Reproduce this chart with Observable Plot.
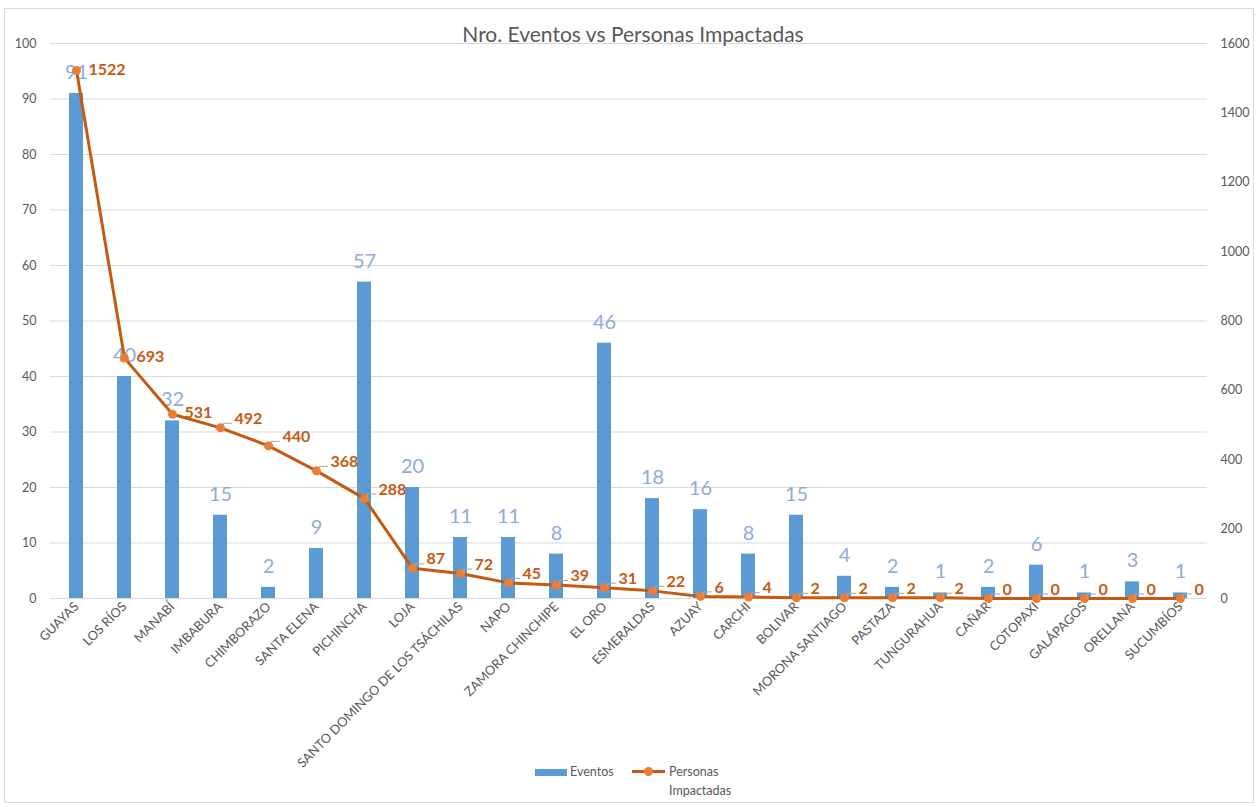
<!DOCTYPE html>
<html><head><meta charset="utf-8">
<script src="https://cdn.jsdelivr.net/npm/d3@7"></script>
<script src="https://cdn.jsdelivr.net/npm/@observablehq/plot@0.6"></script>
<style>
html,body{margin:0;padding:0;background:#fff;}
#wrap{position:relative;width:1260px;height:807px;overflow:hidden;font-family:Lato,"Open Sans",sans-serif;}
#frame{position:absolute;left:4px;top:8px;width:1250px;height:795px;border:1px solid #d9d9d9;box-sizing:border-box;}
#chart{position:absolute;left:0;top:0;}
#title{position:absolute;top:21px;left:0;width:1266px;text-align:center;font-size:21px;color:#595959;}
.lg{position:absolute;font-size:12.5px;color:#595959;line-height:19px;}
</style></head>
<body><div id="wrap"><div id="frame"></div><div id="chart"></div>
<div id="title">Nro. Eventos vs Personas Impactadas</div>
<div class="lg" style="left:535px;top:769px;width:32px;height:7px;background:#5b9bd5"></div>
<div class="lg" style="left:570px;top:762px;">Eventos</div>
<div class="lg" style="left:632px;top:770px;width:33px;height:3px;background:#c55a11"></div>
<div class="lg" style="left:644px;top:767px;width:9px;height:9px;border-radius:50%;background:#ed7d31"></div>
<div class="lg" style="left:669px;top:762px;">Personas<br>Impactadas</div>
</div>
<script>
const provincias = ["GUAYAS","LOS RÍOS","MANABÍ","IMBABURA","CHIMBORAZO","SANTA ELENA","PICHINCHA","LOJA","SANTO DOMINGO DE LOS TSÁCHILAS","NAPO","ZAMORA CHINCHIPE","EL ORO","ESMERALDAS","AZUAY","CARCHI","BOLIVAR","MORONA SANTIAGO","PASTAZA","TUNGURAHUA","CAÑAR","COTOPAXI","GALÁPAGOS","ORELLANA","SUCUMBÍOS"];
const eventos = [91,40,32,15,2,9,57,20,11,11,8,46,18,16,8,15,4,2,1,2,6,1,3,1];
const personas = [1522,693,531,492,440,368,288,87,72,45,39,31,22,6,4,2,2,2,2,0,0,0,0,0];
const leftTicks = [0,10,20,30,40,50,60,70,80,90,100];
const rightTicks = [0,200,400,600,800,1000,1200,1400,1600];
const sinGuia = ["GUAYAS","LOS RÍOS","MANABÍ"];

const ratio = 1600 / 100;
const data = provincias.map((p, i) => ({p, ev: eventos[i], pe: personas[i], ps: personas[i] / ratio}));
const conGuia = data.filter(d => !sinGuia.includes(d.p));
const sinG = data.filter(d => sinGuia.includes(d.p));

const leaderShape = {draw(ctx, l) { ctx.moveTo(3, -5); ctx.lineTo(3, -9); ctx.lineTo(11, -9); }};

const chart = Plot.plot({
  width: 1260, height: 807,
  marginTop: 43, marginBottom: 209, marginLeft: 50, marginRight: 53,
  style: {fontFamily: "Lato, 'Open Sans', sans-serif", color: "#595959", background: "transparent"},
  x: {domain: provincias, paddingInner: 0.7, paddingOuter: 0.35},
  y: {domain: [0, 100]},
  marks: [
    Plot.gridY(leftTicks, {stroke: "#d9d9d9", strokeOpacity: 1}),
    Plot.axisY(leftTicks, {anchor: "left", tickSize: 0, tickPadding: 14, fontSize: 12.5, label: null, fill: "#595959"}),
    Plot.axisY(rightTicks.map(v => v / ratio), {anchor: "right", tickSize: 0, tickPadding: 13, fontSize: 12.5, label: null, fill: "#595959", tickFormat: v => String(Math.round(v * ratio))}),
    Plot.axisX({tickRotate: -45, tickSize: 0, tickPadding: 6, fontSize: 12.8, label: null, fill: "#595959"}),
    Plot.barY(data, {x: "p", y: "ev", fill: "#5b9bd5"}),
    Plot.text(data, {x: "p", y: "ev", text: d => String(d.ev), dy: -21, fontSize: 20, fill: "#8faadc"}),
    Plot.line(data, {x: "p", y: "ps", stroke: "#c55a11", strokeWidth: 3}),
    Plot.dot(data, {x: "p", y: "ps", r: 4.5, fill: "#ed7d31", stroke: "none"}),
    Plot.vector(conGuia, {x: "p", y: "ps", length: 9, rotate: 0, shape: leaderShape, stroke: "#a6a6a6", strokeWidth: 1}),
    Plot.text(conGuia, {x: "p", y: "ps", text: d => String(d.pe), dx: 14, dy: -9, textAnchor: "start", fontSize: 16, fontWeight: "bold", fill: "#c55a11"}),
    Plot.text(sinG, {x: "p", y: "ps", text: d => String(d.pe), dx: 12, dy: -1, textAnchor: "start", fontSize: 16, fontWeight: "bold", fill: "#c55a11"})
  ]
});
document.getElementById("chart").appendChild(chart);
</script>
</body></html>
